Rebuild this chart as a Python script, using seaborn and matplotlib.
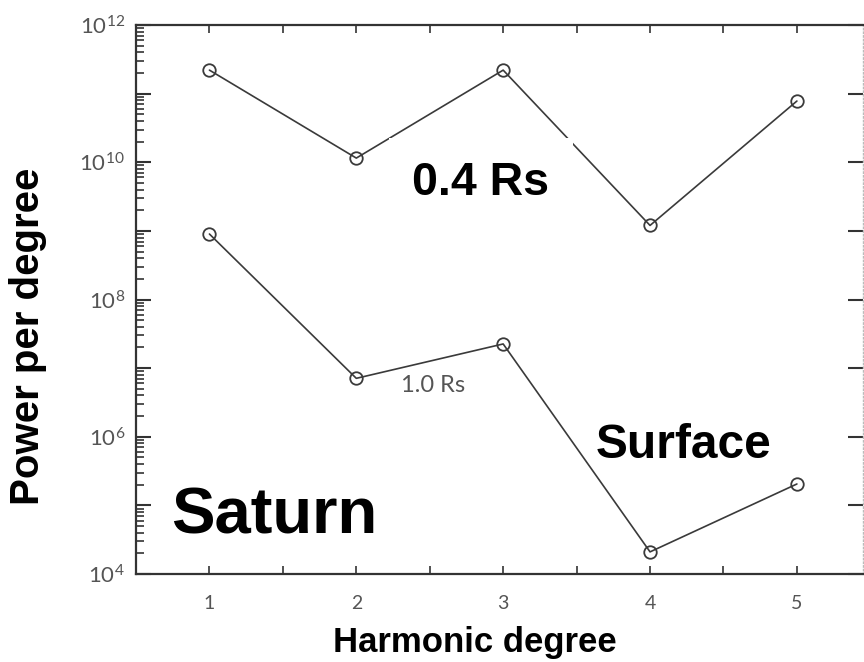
import numpy as np
import pandas as pd
import matplotlib
matplotlib.use("Agg")
import matplotlib.pyplot as plt
import matplotlib.ticker as mticker
import seaborn as sns

# ---- data ----
degree = [1, 2, 3, 4, 5]
power_04 = [2.2e11, 1.15e10, 2.2e11, 1.2e9, 7.8e10]
power_10 = [9.0e8, 7.1e6, 2.25e7, 2.1e4, 2.05e5]
xtick_labels = ["1", "2", "3", "4", "5"]

sns.set_style("ticks")
plt.rcParams['font.family'] = ['Lato', 'DejaVu Sans']
plt.rcParams['mathtext.fontset'] = 'custom'
plt.rcParams['mathtext.rm'] = 'Lato'
plt.rcParams['mathtext.it'] = 'Lato'

fig = plt.figure(figsize=(8.64, 6.62), dpi=100)
W, H = 864, 662
ax = fig.add_axes([136 / W, 1 - 574 / H, (863 - 136) / W, (574 - 25) / H])

line_col = '#3a3a3a'
df = pd.DataFrame({'x': degree * 2,
                   'y': power_04 + power_10,
                   's': ['0.4'] * 5 + ['1.0'] * 5})
sns.lineplot(data=df, x='x', y='y', units='s', estimator=None, ax=ax,
             color=line_col, lw=1.2, marker='o', markersize=9,
             markerfacecolor='none', markeredgecolor=line_col,
             markeredgewidth=1.3, legend=False)

ax.set_yscale('log')
ax.set_ylim(1e4, 1e12)
ax.set_xlim(0.5, 5.45)

# x ticks
ax.xaxis.set_major_locator(mticker.FixedLocator(degree))
ax.set_xticklabels(xtick_labels)
ax.xaxis.set_minor_locator(mticker.MultipleLocator(0.5))

# y ticks
ax.yaxis.set_major_locator(mticker.LogLocator(base=10, numticks=20))
ax.yaxis.set_minor_locator(mticker.LogLocator(base=10, subs=np.arange(2, 10), numticks=100))
def fmt(v, pos):
    n = int(round(np.log10(v)))
    return r'$10^{%d}$' % n if n % 2 == 0 else ''
ax.yaxis.set_major_formatter(mticker.FuncFormatter(fmt))
ax.yaxis.set_minor_formatter(mticker.NullFormatter())

ax.tick_params(axis='both', which='both', direction='in', colors='#333333',
               labelcolor='#555555')
ax.tick_params(axis='y', which='major', length=11, width=1.5, left=True, right=True,
               pad=8, labelsize=16)
ax.tick_params(axis='y', which='minor', length=6, width=1.2, left=True, right=False)
ax.tick_params(axis='x', which='both', length=6, width=1.2, top=True, bottom=True,
               pad=15, labelsize=14)

for s in ['left', 'bottom', 'top']:
    ax.spines[s].set_linewidth(1.6)
    ax.spines[s].set_color('#333333')
ax.spines['right'].set_color('#bbbbbb')
ax.spines['right'].set_linestyle(':')
ax.spines['right'].set_linewidth(1.0)

bold = dict(family=['Liberation Sans', 'DejaVu Sans'], weight='bold', color='black')
ax.set_xlabel('Harmonic degree', fontsize=25, **bold)
ax.set_ylabel('Power per degree', fontsize=29, **bold)
ax.xaxis.set_label_coords((475 - 136) / 727, (574 - 626) / 549)
ax.yaxis.set_label_coords((47 - 136) / 727, (574 - 336) / 549)

ax.text(2.381, 3.3e9, '0.4 Rs', fontsize=33.5, ha='left', va='baseline', zorder=5,
        bbox=dict(boxstyle='square,pad=0.5', fc='white', ec='none'), **bold)
ax.text(3.633, 4.9e5, 'Surface', fontsize=34.5, ha='left', va='baseline', **bold)
ax.text(0.741, 3.9e4, 'Saturn', fontsize=47, ha='left', va='baseline', **bold)
ax.text(2.306, 4.47e6, '1.0 Rs', fontsize=17, ha='left', va='baseline', color='#555555')

fig.savefig('out.png', dpi=100)
